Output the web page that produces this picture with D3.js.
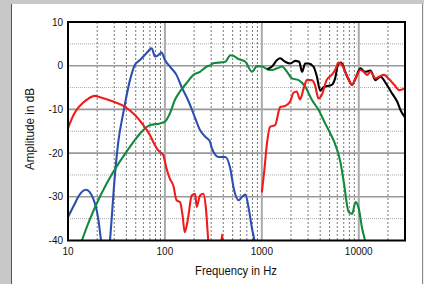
<!DOCTYPE html>
<html><head><meta charset="utf-8">
<script src="https://cdn.jsdelivr.net/npm/d3@7"></script>
<style>
html,body{margin:0;padding:0;background:#c8c8c8;}
svg{display:block;}
text{font-family:"Liberation Sans",Arial,sans-serif;fill:#111;}
</style></head>
<body><svg id="c" width="424" height="284"></svg>
<script>
// ---- data ----
const xTicks = [10, 100, 1000, 10000];
const xTickLabels = ["10", "100", "1000", "10000"];
const yTicks = [10, 0, -10, -20, -30, -40];
const yTickLabels = ["10", "0", "-10", "-20", "-30", "-40"];

const blueFreq = [10, 11.5, 13, 15.3, 18.2, 20.5, 21.9, 23.5, 25.5, 27.1, 30.5, 33, 37.2, 43.6, 49.1, 55.3, 64.8, 73, 79, 85.3, 92.3, 100, 112.6, 131.6, 148.1, 172.6, 196.6, 230, 259, 291, 306, 359, 420, 473, 513, 578, 625, 676, 733, 792, 838, 880];
const blueDb   = [-34.6, -32, -29.7, -28.4, -30.4, -35, -40, -46, -46, -40, -25, -17.5, -10.8, -3.3, 0.2, 1.3, 2.9, 4.0, 2.1, 2.4, 3.0, 1.3, -0.2, -2.1, -4.8, -7.8, -10.9, -14.7, -16.2, -17.3, -19.0, -20.9, -20.9, -23.6, -28.1, -30.8, -30.0, -29.5, -32.7, -37.3, -40, -44];

const greenFreq = [12.5, 13.9, 47.2, 55.4, 70.2, 89, 100, 112.6, 126.9, 143, 167, 197, 230, 270, 302, 307, 420, 473, 513, 578, 676, 792, 892, 1006, 1134, 1274, 1435, 1615, 1820, 2047, 2394, 2806, 3279, 3842, 4500, 5270, 5600, 6460, 7000, 7880, 8540, 9260, 10000, 10850, 11600, 12500];
const greenDb   = [-43, -40, -17.5, -15.5, -13.6, -13.2, -12.8, -10.9, -7.8, -5.9, -4.0, -2.1, -1.4, -0.2, 0.2, 0.5, 0.9, 2.4, 2.2, 1.5, 0.9, -1.4, -0.1, -0.2, -0.8, -1.0, -0.6, -0.2, -1.4, -2.9, -3.3, -4.8, -7.8, -10.1, -13.2, -16.2, -17.5, -22, -26.6, -33.5, -33.9, -31.2, -32.7, -37.3, -40, -44];

const redLowFreq = [10, 11.4, 15.6, 19, 21.4, 29.3, 38.7, 49.1, 59.8, 70.2, 76, 85.3, 96.3, 104, 112.6, 122, 132, 143, 152, 160, 173, 189, 205, 213, 230, 249, 265, 280, 300, 370, 388, 405];
const redLowDb   = [-14.3, -11.3, -7.8, -6.9, -7.2, -8.2, -9.4, -11.3, -13.6, -15.9, -17.5, -19.4, -20.5, -23.6, -25.9, -27.4, -30.8, -31.2, -34.2, -38.1, -35, -29.7, -29.3, -32.3, -29.7, -29.3, -32.7, -40, -46, -46, -38.6, -46];

const redHighFreq = [1000, 1060, 1134, 1215, 1370, 1544, 1740, 1960, 2120, 2290, 2480, 2700, 2920, 3280, 3550, 3840, 4150, 4660, 5270, 5700, 6200, 6700, 7250, 7900, 8540, 9260, 10400, 11250, 12200, 13200, 14900, 16200, 18200, 20600, 23300, 26300, 29600];
const redHighDb   = [-29, -24, -17.5, -14, -13.6, -9.5, -9.2, -8.2, -6.2, -5.9, -7.7, -5.2, -3.3, -3.3, -4.6, -7.5, -6.7, -3.3, -2.1, -1.0, 0.7, 0.2, -1.4, -3.3, -4.4, -2.9, -1.0, -1.4, -2.1, -1.4, -2.9, -2.5, -2.1, -3.1, -4.4, -5.6, -5.2];

const blackFreq = [1134, 1274, 1435, 1544, 1740, 1960, 2210, 2430, 2600, 2800, 3030, 3410, 3700, 4000, 4330, 4880, 5270, 5700, 6100, 6460, 6900, 7250, 7900, 8540, 9260, 10400, 11600, 13200, 14900, 16800, 19000, 22000, 24900, 27400, 29800];
const blackDb   = [-0.8, -0.2, 1.3, 1.7, 0.9, 0.5, 1.1, 0.9, -1.4, 0.5, 0.5, -0.2, -2.5, -5.7, -4.9, -4.6, -4.4, -2.9, 0.2, 0.7, 0.0, -1.4, -3.3, -4.4, -2.9, -0.6, -1.4, -1.1, -3.3, -2.5, -4.0, -6.3, -8.2, -10.5, -11.7];

const minorFreqs = [];
[10, 100, 1000, 10000].forEach(d => { for (let k = 2; k <= 9; k++) { if (d * k <= 30000) minorFreqs.push(d * k); } });

// ---- layout ----
const svg = d3.select("#c");
const L = 68, R = 405, T = 22, B = 240.5;
const x = d3.scaleLog().domain([10, 30000]).range([L, R]);
const y = d3.scaleLinear().domain([-40, 10]).range([B, T]);

// panel
svg.append("rect").attr("x", 0).attr("y", 0).attr("width", 424).attr("height", 284).attr("fill", "#c8c8c8");
svg.append("rect").attr("x", 12).attr("y", 4).attr("width", 410).attr("height", 290).attr("fill", "#fff");
svg.append("line").attr("x1", 11.5).attr("x2", 11.5).attr("y1", 4).attr("y2", 284).attr("stroke", "#555").attr("stroke-width", 1);
svg.append("line").attr("x1", 422.5).attr("x2", 422.5).attr("y1", 4).attr("y2", 284).attr("stroke", "#888").attr("stroke-width", 1);
svg.append("rect").attr("x", 423).attr("y", 4).attr("width", 1).attr("height", 280).attr("fill", "#eee");

// grid
const g = svg.append("g");
g.selectAll(".hminor").data([5, -5, -15, -25, -35]).join("line")
  .attr("x1", L).attr("x2", R).attr("y1", d => y(d)).attr("y2", d => y(d))
  .attr("stroke", "#aaa").attr("stroke-width", 1).attr("stroke-dasharray", "1,1");
g.selectAll(".vminor").data(minorFreqs).join("line")
  .attr("x1", d => x(d)).attr("x2", d => x(d)).attr("y1", T).attr("y2", B)
  .attr("stroke", "#777").attr("stroke-width", 1).attr("stroke-dasharray", "2,2");
g.selectAll(".hmajor").data([0, -10, -20, -30]).join("line")
  .attr("x1", L).attr("x2", R).attr("y1", d => y(d)).attr("y2", d => y(d))
  .attr("stroke", "#999").attr("stroke-width", 1.6);
g.selectAll(".vmajor").data([100, 1000, 10000]).join("line")
  .attr("x1", d => x(d)).attr("x2", d => x(d)).attr("y1", T).attr("y2", B)
  .attr("stroke", "#aaa").attr("stroke-width", 2);

// clip
svg.append("clipPath").attr("id", "pc").append("rect").attr("x", L).attr("y", T).attr("width", R - L).attr("height", B - T);

const line = d3.line().x(d => x(d[0])).y(d => y(d[1])).curve(d3.curveMonotoneX);
const series = [
  {f: blueFreq, v: blueDb, c: "#2f4fb0"},
  {f: greenFreq, v: greenDb, c: "#12893d"},
  {f: blackFreq, v: blackDb, c: "#000"},
  {f: redLowFreq, v: redLowDb, c: "#f01c1c"},
  {f: redHighFreq, v: redHighDb, c: "#f01c1c"}
];
const pg = svg.append("g").attr("clip-path", "url(#pc)");
series.forEach(s => {
  pg.append("path").datum(s.f.map((f, i) => [f, s.v[i]]))
    .attr("d", line).attr("fill", "none").attr("stroke", s.c)
    .attr("stroke-width", 2.1).attr("stroke-linejoin", "round");
});

// frame
svg.append("rect").attr("x", L).attr("y", T).attr("width", R - L).attr("height", B - T)
  .attr("fill", "none").attr("stroke", "#000").attr("stroke-width", 2);

// tick labels
svg.selectAll(".yt").data(yTicks).join("text")
  .attr("x", 63).attr("y", d => y(d) + 3.6).attr("text-anchor", "end")
  .attr("font-size", 10).text((d, i) => yTickLabels[i]);
svg.selectAll(".xt").data(xTicks).join("text")
  .attr("x", d => x(d)).attr("y", 255).attr("text-anchor", "middle")
  .attr("font-size", 10).text((d, i) => xTickLabels[i]);

// axis titles
svg.append("text").attr("x", 236).attr("y", 275).attr("text-anchor", "middle")
  .attr("font-size", 13.5).attr("textLength", 82).attr("lengthAdjust", "spacingAndGlyphs")
  .text("Frequency in Hz");
svg.append("text").attr("transform", "translate(34,129) rotate(-90)").attr("text-anchor", "middle")
  .attr("font-size", 13.5).attr("textLength", 82).attr("lengthAdjust", "spacingAndGlyphs")
  .text("Amplitude in dB");
</script></body></html>
